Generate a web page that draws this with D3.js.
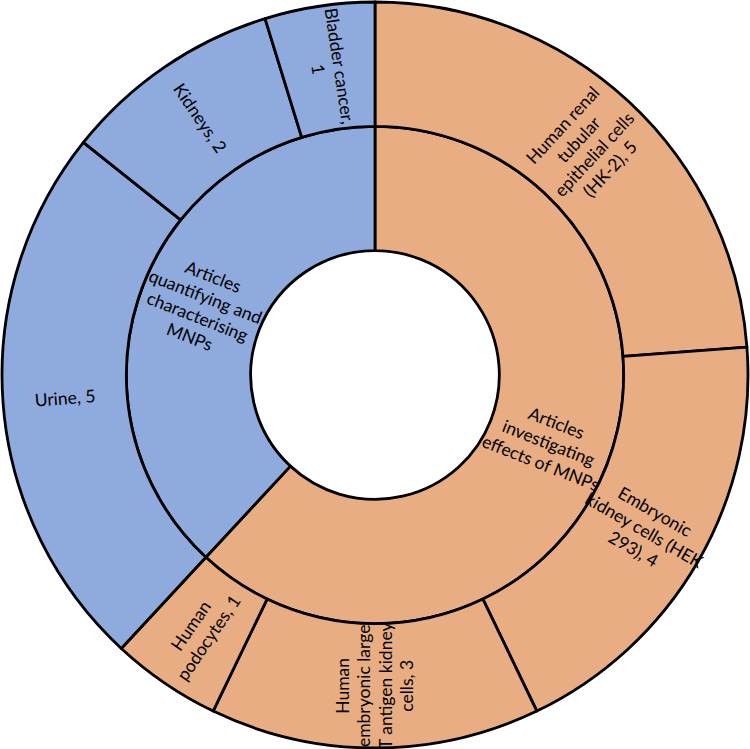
<!DOCTYPE html>
<html lang="en">
<head>
  <meta charset="UTF-8">
  <title>MNP articles sunburst</title>
  <script src="https://d3js.org/d3.v7.min.js"></script>
  <style>
    html, body {
      margin: 0;
      padding: 0;
      background: white;
      overflow: hidden;
    }
    svg { display: block; }
    text {
      font-family: Lato, "Open Sans", sans-serif;
      font-size: 17.5px;
      fill: #000;
    }
  </style>
</head>
<body>
<svg width="750" height="749"></svg>

<script>
// inner ring
const groups = ["Articles investigating effects of MNPs", "Articles quantifying and characterising MNPs"];
const groupColors = ["#E8AD82", "#8FAADC"];
const groupLabels = [
  ["Articles", "investigating", "effects of MNPs"],
  ["Articles", "quantifying and", "characterising", "MNPs"]
];

// outer ring
const leafNames = [
  "Human renal tubular epithelial cells (HK-2)",
  "Embryonic kidney cells (HEK 293)",
  "Human embryonic large T antigen kidney cells",
  "Human podocytes",
  "Urine",
  "Kidneys",
  "Bladder cancer"
];
const leafGroup = [0, 0, 0, 0, 1, 1, 1];
const leafValues = [5, 4, 3, 1, 5, 2, 1];
const leafLabels = [
  ["Human renal", "tubular", "epithelial cells", "(HK-2), 5"],
  ["Embryonic", "kidney cells (HEK", "293), 4"],
  ["Human", "embryonic large", "T antigen kidney", "cells, 3"],
  ["Human", "podocytes, 1"],
  ["Urine, 5"],
  ["Kidneys, 2"],
  ["Bladder cancer,", "1"]
];

const width = 750, height = 749;
const cx = 375, cy = 375;
const outerR = 373;

const tree = {
  name: "root",
  children: groups.map((g, gi) => ({
    name: g, gi: gi, lines: groupLabels[gi],
    children: leafNames.map((n, i) => ({ name: n, gi: leafGroup[i], value: leafValues[i], lines: leafLabels[i] }))
      .filter(d => d.gi === gi)
  }))
};

const root = d3.hierarchy(tree).sum(d => d.value || 0);
d3.partition().size([2 * Math.PI, 3])(root);

const r = d3.scaleLinear().domain([0, 3]).range([0, outerR]);

const arc = d3.arc()
  .startAngle(d => d.x0)
  .endAngle(d => d.x1)
  .innerRadius(d => r(d.y0))
  .outerRadius(d => r(d.y1));

const svg = d3.select("svg");
const g = svg.append("g").attr("transform", `translate(${cx},${cy})`);

const nodes = root.descendants().filter(d => d.depth > 0);

g.selectAll("path")
  .data(nodes)
  .join("path")
  .attr("d", arc)
  .attr("fill", d => groupColors[d.data.gi])
  .attr("stroke", "#000")
  .attr("stroke-width", 2.8)
  .attr("stroke-linejoin", "round");

const lineH = 21.5;

// labels sit at the middle of each segment, turned along the radius
const label = g.selectAll("g.label")
  .data(nodes)
  .join("g")
  .attr("class", "label")
  .attr("transform", d => {
    const a = (d.x0 + d.x1) / 2;
    const rr = r((d.y0 + d.y1) / 2);
    const deg = a * 180 / Math.PI;
    const rot = deg < 180 ? deg - 90 : deg - 270;
    return `translate(${rr * Math.sin(a)},${-rr * Math.cos(a)}) rotate(${rot})`;
  });

label.each(function(d) {
  const n = d.data.lines.length;
  const t = d3.select(this).append("text").attr("text-anchor", "middle");
  d.data.lines.forEach((ln, i) => {
    t.append("tspan")
      .attr("x", 0)
      .attr("y", (i - (n - 1) / 2) * lineH)
      .attr("dy", "0.35em")
      .text(ln);
  });
});
</script>
</body>
</html>
